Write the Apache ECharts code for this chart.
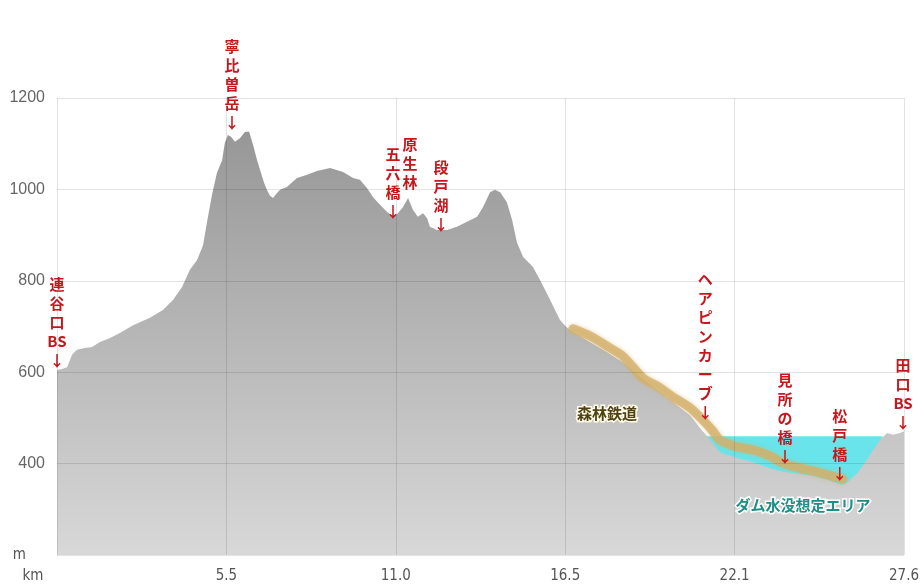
<!DOCTYPE html>
<html>
<head>
<meta charset="utf-8">
<script src="https://cdn.jsdelivr.net/npm/echarts@6/dist/echarts.min.js"></script>
<style>
html,body{margin:0;padding:0;background:#fff;}
#chart{width:924px;height:587px;}
</style>
</head>
<body>
<div id="chart"></div>
<script>
// ---- data (km, m) ----
const distanceKm = [0.00,0.16,0.33,0.49,0.65,0.91,1.14,1.40,1.73,2.05,2.48,3.03,3.45,3.78,4.07,4.33,4.56,4.76,4.89,5.05,5.21,5.38,5.47,5.57,5.67,5.80,5.96,6.13,6.26,6.39,6.52,6.62,6.75,6.84,6.94,7.04,7.17,7.27,7.49,7.82,8.15,8.47,8.90,9.32,9.65,9.87,10.10,10.30,10.53,10.75,10.95,11.11,11.27,11.44,11.60,11.76,11.93,12.06,12.15,12.38,12.71,13.03,13.36,13.69,13.88,14.11,14.27,14.44,14.66,14.83,14.99,15.19,15.51,15.74,16.07,16.39,16.62,16.81,17.37,17.92,18.44,19.00,19.55,20.07,20.63,20.95,21.28,21.60,22.09,22.68,23.23,23.66,24.21,24.63,25.12,25.58,25.74,26.07,26.39,26.59,26.82,27.05,27.24,27.47,27.60];
const elevationM = [605,607,611,638,649,653,655,666,675,686,703,719,736,758,786,824,845,878,929,988,1036,1064,1102,1119,1115,1104,1112,1126,1126,1097,1064,1042,1014,999,986,981,992,999,1005,1025,1032,1040,1047,1038,1025,1021,1003,983,966,951,940,948,961,981,955,940,948,937,918,911,911,918,929,940,961,994,999,994,972,933,883,852,830,802,758,714,697,688,666,644,622,590,561,535,506,478,452,425,414,403,390,382,377,373,364,353,358,379,408,430,452,467,463,467,471];

// forest railway (森林鉄道) band
const railKm = [16.81,17.37,18.02,18.44,19.10,19.55,20.07,20.63,21.05,21.35,21.60,22.09,22.68,23.23,23.66,24.21,24.63,25.12,25.61];
const railM  = [695,679,653,635,587,570,546,522,495,473,452,438,430,417,401,390,384,375,366];

// assumed dam water level (ダム水没想定エリア)
const waterKm = [21.10, 26.90];
const waterM  = [460, 460];

// axis tick labels
const xTickLabels = ['km','5.5','11.0','16.5','22.1','27.6'];
const yTickLabels = {200:'m',400:'400',600:'600',800:'800',1000:'1000',1200:'1200'};

// place annotations
const spotNames = ['連谷口BS','寧比曽岳','原生林','五六橋','段戸湖','ヘアピンカーブ','見所の橋','松戸橋','田口BS'];
const spotKm    = [0.00, 5.70, 11.50, 10.95, 12.51, 21.12, 23.72, 25.51, 27.57];
const spotM     = [605, 1126, 994, 931, 902, 491, 395, 358, 469];
const spotArrow = [true, true, false, true, true, true, true, true, true];

const areaNames = ['森林鉄道','ダム水没想定エリア'];
const areaKm    = [17.92, 24.31];
const areaM     = [509, 309];

// ---- build ----
const zip = (a,b) => a.map((v,i)=>[v,b[i]]);
const narrow = '"Liberation Sans Narrow","DejaVu Sans Condensed","Roboto Condensed","Liberation Sans",sans-serif';

const spotData = spotNames.map((n,i)=>({
  coord:[spotKm[i], spotM[i]],
  label:{formatter: n.match(/BS|./g).join('\n') + (spotArrow[i] ? '\n↓' : '')}
}));

const chart = echarts.init(document.getElementById('chart'), null, {renderer:'canvas'});
chart.setOption({
  animation:false,
  backgroundColor:'#ffffff',
  grid:{left:57, right:20, top:98, bottom:32, containLabel:false},
  xAxis:{
    type:'value', min:0, max:27.6, interval:5.52, z:10,
    axisLine:{show:false}, axisTick:{show:false},
    splitLine:{show:true, lineStyle:{color:'rgba(0,0,0,0.11)', width:1}},
    axisLabel:{
      margin:14, fontSize:15, color:'#555', fontFamily:narrow,
      formatter:(v,idx)=> idx===0 ? '{k|'+xTickLabels[0]+'}' : xTickLabels[idx],
      rich:{k:{fontSize:15,color:'#555',padding:[0,48,0,0],fontFamily:narrow}}
    }
  },
  yAxis:{
    type:'value', min:200, max:1200, interval:200, z:10,
    axisLine:{show:false}, axisTick:{show:false},
    splitLine:{show:true, lineStyle:{color:'rgba(0,0,0,0.11)', width:1}},
    axisLabel:{
      margin:12, fontSize:16, color:'#666', fontFamily:'"Liberation Sans",Arial,sans-serif',
      formatter:(v)=> v===200 ? '{m|'+yTickLabels[200]+'}' : yTickLabels[v],
      rich:{m:{fontSize:15,color:'#555',padding:[0,19,0,0],fontFamily:narrow}}
    }
  },
  series:[
    {
      name:'water', type:'line', z:1, data:zip(waterKm, waterM),
      symbol:'none', lineStyle:{width:0, color:'#66e3ea'},
      areaStyle:{color:'#68e4ea', opacity:1}, silent:true
    },
    {
      name:'profile', type:'line', z:2, data:zip(distanceKm, elevationM),
      symbol:'none', lineStyle:{width:0, color:'#9a9a9a'},
      areaStyle:{opacity:1, color:new echarts.graphic.LinearGradient(0,0,0,1,[
        {offset:0,color:'#979797'},{offset:1,color:'#d8d8d8'}])},
      markPoint:{
        symbol:'circle', symbolSize:0, silent:true,
        label:{show:true, position:'top', distance:0, color:'#c8161d', fontSize:15, fontWeight:'bold',
          lineHeight:19, align:'center', fontFamily:'"Noto Sans CJK JP","Noto Sans",sans-serif'},
        data: spotData
      }
    },
    {
      name:'rail', type:'line', z:3, data:zip(railKm, railM),
      symbol:'none', smooth:0.3,
      lineStyle:{width:9, color:'rgba(212,176,105,0.78)', cap:'round', join:'round',
        shadowBlur:4, shadowColor:'rgba(212,176,105,0.7)'},
      markPoint:{
        symbol:'circle', symbolSize:0, silent:true,
        label:{show:true, position:'inside', fontSize:15, fontWeight:'bold',
          fontFamily:'"Noto Sans CJK JP","Noto Sans",sans-serif',
          textBorderColor:'#fffbe8', textBorderWidth:3},
        data:[
          {coord:[areaKm[0], areaM[0]], label:{formatter:areaNames[0], color:'#4e4212'}},
          {coord:[areaKm[1], areaM[1]], label:{formatter:areaNames[1], color:'#1c8f86', textBorderColor:'#ffffff'}}
        ]
      }
    }
  ]
});
</script>
</body>
</html>
